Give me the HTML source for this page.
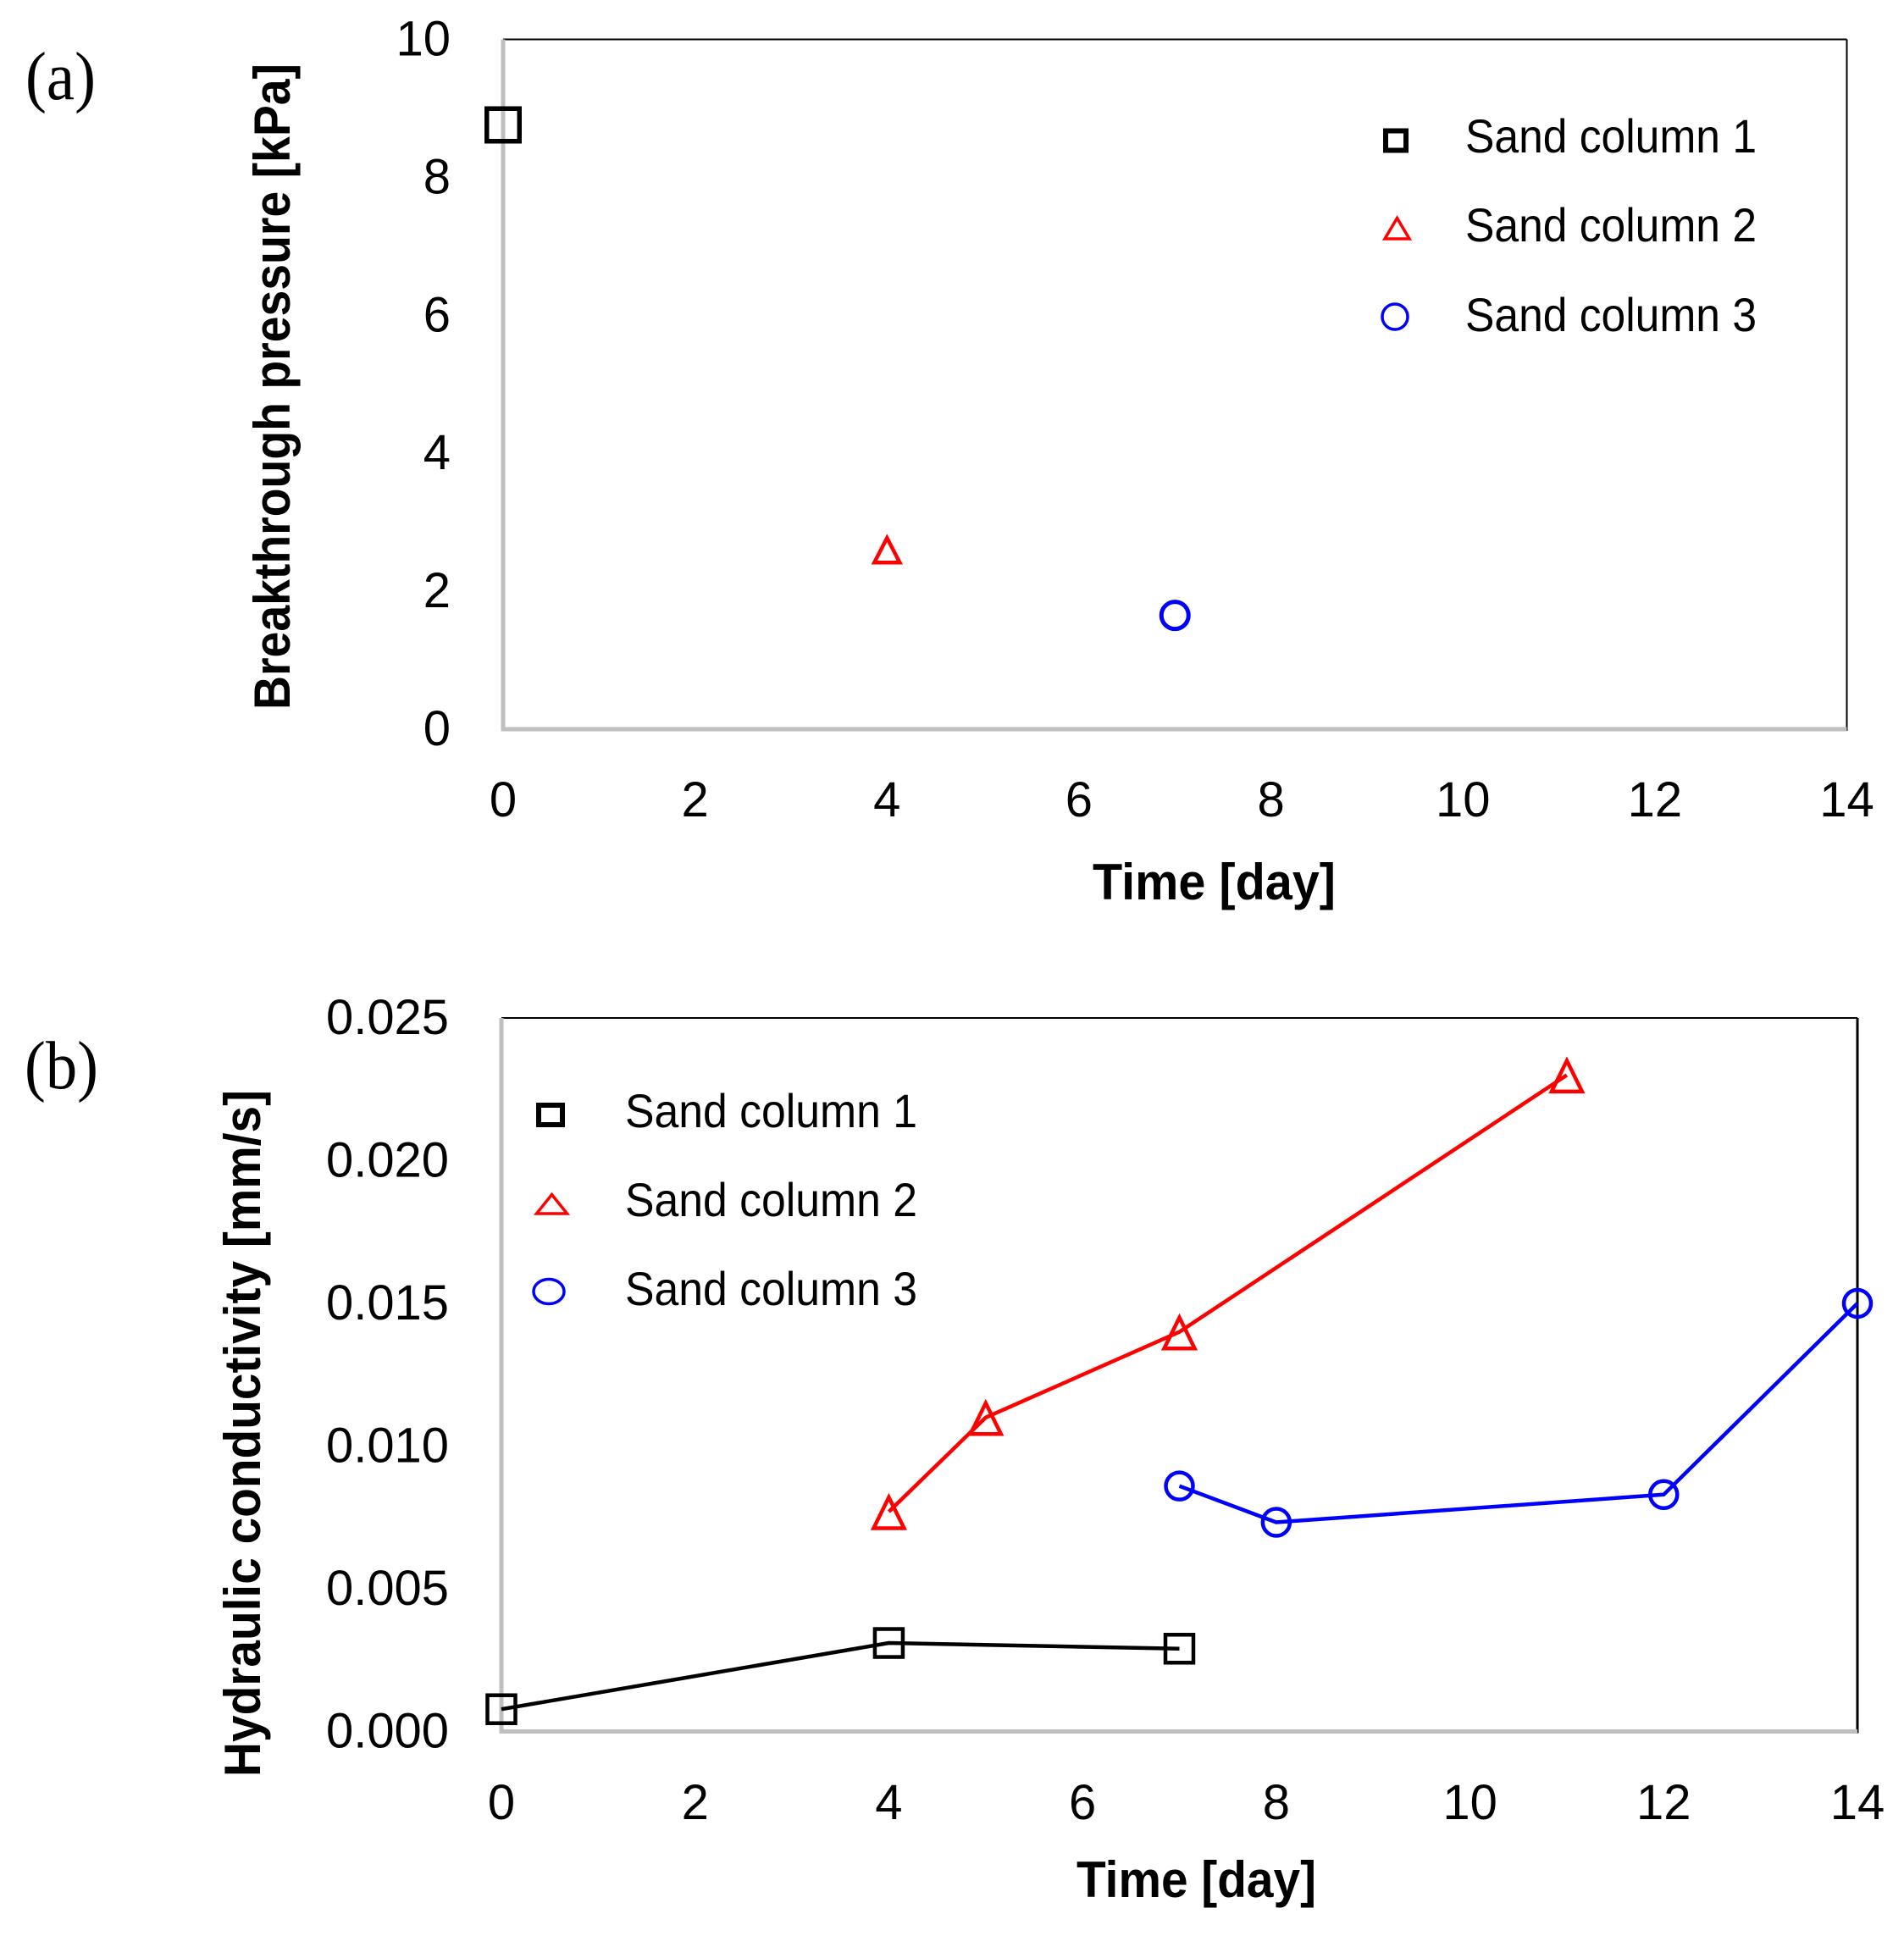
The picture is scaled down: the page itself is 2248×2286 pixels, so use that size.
<!DOCTYPE html>
<html>
<head>
<meta charset="utf-8">
<title>Breakthrough pressure and hydraulic conductivity</title>
<style>
html,body{margin:0;padding:0;background:#fff;}
svg{display:block;}
text{font-family:"Liberation Sans",sans-serif;fill:#000;}
.tick{font-size:58px;}
.legend{font-size:56px;}
.title{font-size:60px;font-weight:bold;}
.panel{font-family:"Liberation Serif",serif;font-size:80px;}
</style>
</head>
<body>
<svg id="fig" xmlns="http://www.w3.org/2000/svg" width="2248" height="2286" viewBox="0 0 2248 2286">
<rect width="2248" height="2286" fill="#fff"/>

<text class="panel" x="30" y="117" textLength="83" lengthAdjust="spacingAndGlyphs">(a)</text>
<text class="panel" x="29" y="1285" textLength="87" lengthAdjust="spacingAndGlyphs">(b)</text>

<g id="chartA"></g>
<g id="chartB"></g>

<text class="title" x="1290" y="1062" textLength="287" lengthAdjust="spacingAndGlyphs">Time [day]</text>
<text class="title" transform="translate(342,838) rotate(-90)" x="0" y="0" textLength="763" lengthAdjust="spacingAndGlyphs">Breakthrough pressure [kPa]</text>
<text class="title" x="1271" y="2240" textLength="283" lengthAdjust="spacingAndGlyphs">Time [day]</text>
<text class="title" transform="translate(307,2098) rotate(-90)" x="0" y="0" textLength="811" lengthAdjust="spacingAndGlyphs">Hydraulic conductivity [mm/s]</text>

<g>
  <rect x="1636" y="154.5" width="24" height="23" fill="none" stroke="#000" stroke-width="6"/>
  <polygon points="1649.5,257.5 1664,282 1635,282" fill="none" stroke="#f00" stroke-width="3.5"/>
  <circle cx="1647" cy="374" r="15" fill="none" stroke="#00f" stroke-width="3.5"/>
  <text class="legend" x="1730" y="180" textLength="344" lengthAdjust="spacingAndGlyphs">Sand column 1</text>
  <text class="legend" x="1730" y="285" textLength="344" lengthAdjust="spacingAndGlyphs">Sand column 2</text>
  <text class="legend" x="1730" y="391" textLength="344" lengthAdjust="spacingAndGlyphs">Sand column 3</text>
</g>

<g>
  <rect x="636" y="1305" width="28" height="23" fill="none" stroke="#000" stroke-width="6"/>
  <polygon points="651.5,1410.5 669.5,1433 633.5,1433" fill="none" stroke="#f00" stroke-width="3.5"/>
  <ellipse cx="648" cy="1525" rx="18" ry="14.5" fill="none" stroke="#00f" stroke-width="3.5"/>
  <text class="legend" x="738" y="1331" textLength="345" lengthAdjust="spacingAndGlyphs">Sand column 1</text>
  <text class="legend" x="738" y="1436" textLength="345" lengthAdjust="spacingAndGlyphs">Sand column 2</text>
  <text class="legend" x="738" y="1541" textLength="345" lengthAdjust="spacingAndGlyphs">Sand column 3</text>
</g>
</svg>

<script>
// Shared x axis ticks
var xTicks = [0, 2, 4, 6, 8, 10, 12, 14];

// Chart (a) data
var yTicksA = [0, 2, 4, 6, 8, 10];
var aColumn1X = [0];
var aColumn1Y = [8.76];
var aColumn2X = [4];
var aColumn2Y = [2.6];
var aColumn3X = [7];
var aColumn3Y = [1.65];

// Chart (b) data
var yTicksB = [0.000, 0.005, 0.010, 0.015, 0.020, 0.025];
var bColumn1X = [0, 4, 7];
var bColumn1Y = [0.00078, 0.0031, 0.0029];
var bColumn2X = [4, 5, 7, 11];
var bColumn2Y = [0.0077, 0.0110, 0.0140, 0.0230];
var bColumn3X = [7, 8, 12, 14];
var bColumn3Y = [0.0086, 0.00733, 0.0083, 0.0150];

var NS = 'http://www.w3.org/2000/svg';

function make(parent, tag, attrs) {
  var el = document.createElementNS(NS, tag);
  for (var k in attrs) { el.setAttribute(k, attrs[k]); }
  parent.appendChild(el);
  return el;
}

function scale(d0, d1, r0, r1) {
  return function (v) { return r0 + (v - d0) / (d1 - d0) * (r1 - r0); };
}

function drawFrame(g, box, rightWidth, suffix) {
  var top = make(g, 'line', {x1: box.l, y1: box.t, x2: box.r, y2: box.t, stroke: '#000', 'stroke-width': 2});
  
  
  var right = make(g, 'line', {x1: box.r, y1: box.t, x2: box.r, y2: box.b + 2, stroke: '#000', 'stroke-width': rightWidth});
  
  
  var left = make(g, 'line', {x1: box.l, y1: box.t, x2: box.l, y2: box.b + 2.5, stroke: '#bfbfbf', 'stroke-width': 5});
  
  
  var bottom = make(g, 'line', {x1: box.l - 2, y1: box.b, x2: box.r, y2: box.b, stroke: '#bfbfbf', 'stroke-width': 5});
  
  
}

function drawTicks(g, sx, sy, ticksX, ticksY, xLabelY, yLabelX, yDigits, yLabelWidth, yBaseOffset, suffix) {
  ticksX.forEach(function (v) {
    var t = make(g, 'text', {x: sx(v), y: xLabelY, 'text-anchor': 'middle', 'class': 'tick'});
    
    
    t.textContent = String(v);
  });
  ticksY.forEach(function (v) {
    var s = v.toFixed(yDigits);
    var t = make(g, 'text', {x: yLabelX, y: sy(v) + yBaseOffset, 'text-anchor': 'end', 'class': 'tick'});
    if (yLabelWidth) {
      t.setAttribute('x', yLabelX - yLabelWidth);
      t.setAttribute('text-anchor', 'start');
      t.setAttribute('textLength', yLabelWidth);
      t.setAttribute('lengthAdjust', 'spacingAndGlyphs');
    }
    
    
    t.textContent = s;
  });
}

function drawLine(g, xs, ys, sx, sy, color, width, suffix) {
  var pts = xs.map(function (x, i) { return sx(x) + ',' + sy(ys[i]); }).join(' ');
  var p = make(g, 'polyline', {points: pts, fill: 'none', stroke: color, 'stroke-width': width, 'stroke-linejoin': 'round'});
  
  
}

function drawSquares(g, xs, ys, sx, sy, size, sw, suffix) {
  xs.forEach(function (x, i) {
    var r = make(g, 'rect', {x: sx(x) - size / 2, y: sy(ys[i]) - size / 2, width: size, height: size, fill: 'none', stroke: '#000', 'stroke-width': sw});
    
    
  });
}

function drawTriangles(g, xs, ys, sx, sy, halfW, up, down, sw, suffix) {
  xs.forEach(function (x, i) {
    var cx = sx(x), cy = sy(ys[i]);
    var pts = cx + ',' + (cy - up) + ' ' + (cx + halfW) + ',' + (cy + down) + ' ' + (cx - halfW) + ',' + (cy + down);
    var p = make(g, 'polygon', {points: pts, fill: 'none', stroke: '#f00', 'stroke-width': sw});
    
    
  });
}

function drawCircles(g, xs, ys, sx, sy, r, sw, suffix) {
  xs.forEach(function (x, i) {
    var c = make(g, 'circle', {cx: sx(x), cy: sy(ys[i]), r: r, fill: 'none', stroke: '#00f', 'stroke-width': sw});
    
    
  });
}

// Chart (a)
var gA = document.getElementById('chartA');
var boxA = {l: 594, r: 2180.5, t: 46.5, b: 861};
var xA = scale(0, 14, boxA.l, boxA.r);
var yA = scale(0, 10, boxA.b, boxA.t);
drawFrame(gA, boxA, 2, 'a');
drawTicks(gA, xA, yA, xTicks, yTicksA, 964, 532, 0, 0, 19, 'a');
drawSquares(gA, aColumn1X, aColumn1Y, xA, yA, 38.5, 5.5, 'column-1-a');
drawTriangles(gA, aColumn2X, aColumn2Y, xA, yA, 15, 14, 15, 4.5, 'column-2-a');
drawCircles(gA, aColumn3X, aColumn3Y, xA, yA, 16, 5, 'column-3-a');

// Chart (b)
var gB = document.getElementById('chartB');
var boxB = {l: 592, r: 2193, t: 1202, b: 2044.5};
var xB = scale(0, 14, boxB.l, boxB.r);
var yB = scale(0, 0.025, boxB.b, boxB.t);
drawFrame(gB, boxB, 3, 'b');
drawTicks(gB, xB, yB, xTicks, yTicksB, 2148, 530, 3, 145, 19, 'b');
drawLine(gB, bColumn1X, bColumn1Y, xB, yB, '#000', 4.5, 'column-1');
drawLine(gB, bColumn2X, bColumn2Y, xB, yB, '#f00', 4.5, 'column-2');
drawLine(gB, bColumn3X, bColumn3Y, xB, yB, '#00f', 4.5, 'column-3');
drawSquares(gB, bColumn1X, bColumn1Y, xB, yB, 33, 4.5, 'column-1-b');
drawTriangles(gB, bColumn2X, bColumn2Y, xB, yB, 18, 17, 19.5, 4.5, 'column-2-b');
drawCircles(gB, bColumn3X, bColumn3Y, xB, yB, 16, 4.5, 'column-3-b');
</script>
</body>
</html>
